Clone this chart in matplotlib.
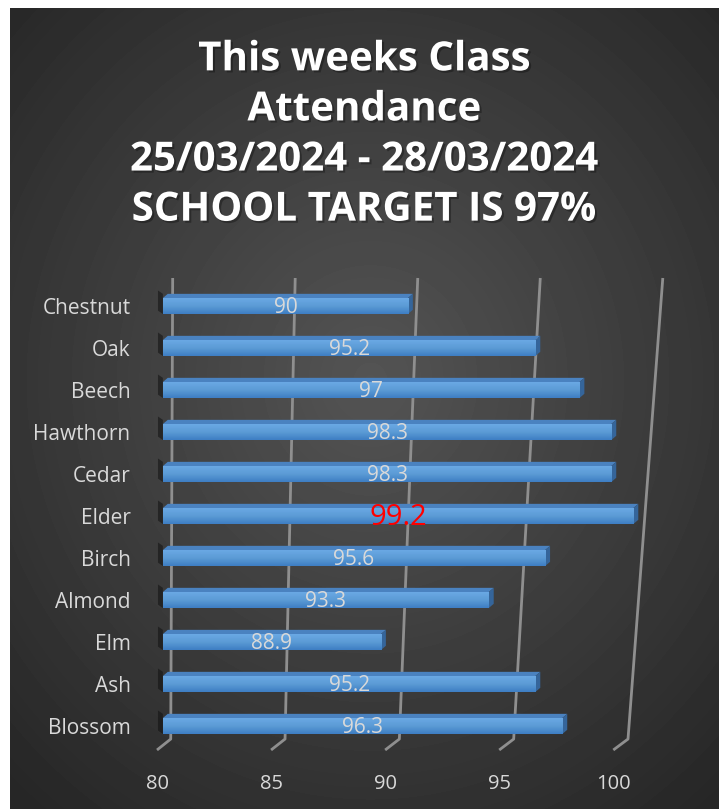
import numpy as np
import matplotlib
matplotlib.use("Agg")
import matplotlib.pyplot as plt
import matplotlib.patheffects as pe
from matplotlib.patches import Polygon
from matplotlib.colors import LinearSegmentedColormap

# bottom to top, as drawn
CLASSES = ["Blossom", "Ash", "Elm", "Almond", "Birch", "Elder",
           "Cedar", "Hawthorn", "Beech", "Oak", "Chestnut"]
ATTENDANCE = [96.3, 95.2, 88.9, 93.3, 95.6, 99.2, 98.3, 98.3, 97, 95.2, 90]
HIGHLIGHT = "Elder"
XTICKS = [80, 85, 90, 95, 100]
TITLE = "This weeks Class\nAttendance\n25/03/2024 - 28/03/2024\nSCHOOL TARGET IS 97%"

FONT = ["Open Sans", "DejaVu Sans"]
W, H = 719, 809

fig = plt.figure(figsize=(W / 100, H / 100), dpi=100)
fig.patch.set_facecolor("white")

# dark radial background
bg = fig.add_axes([0, 0, 1, 1])
bg.set_xlim(0, W)
bg.set_ylim(H, 0)
bg.axis("off")
yy, xx = np.mgrid[8:H, 10:W]
r = np.hypot((xx - 370) / 520, (yy - 380) / 560)
r = np.clip(r, 0, 1)
grey = 0.33 - 0.18 * r
bg.imshow(grey, cmap="gray", vmin=0, vmax=1, extent=[10, W, H, 8],
          aspect="auto", interpolation="bilinear")

# main plot area, x in data units of the bar fronts
ax = fig.add_axes([157 / W, (H - 750) / H, 496 / W, 472 / H])
ax.patch.set_alpha(0)
for s in ax.spines.values():
    s.set_visible(False)

grid_col = "#8f8f8f"
y_back, y_front = -0.31, -0.571
for v in XTICKS:
    top = v + 0.4
    bottom = 80.32 + 0.933 * (v - 80)
    front = 79.76 + 0.931 * (v - 80)
    ax.plot([top, bottom, front], [10.667, y_back, y_front], color=grid_col,
            lw=2, zorder=1, solid_capstyle="butt", clip_on=False)

h = 0.38
dx, dy = 0.2, 0.1
grad = LinearSegmentedColormap.from_list("bar", ["#3f7fc4", "#5b9bd5", "#6aa8e4"])
ypos = np.arange(len(CLASSES))
bars = ax.barh(ypos, [a - 80 for a in ATTENDANCE], left=80, height=h,
               color="#5b9bd5", edgecolor="none", zorder=3)
for b, val in zip(bars, ATTENDANCE):
    x0, y0 = b.get_x(), b.get_y()
    x1, y1 = x0 + b.get_width(), y0 + b.get_height()
    ax.imshow(np.linspace(0, 1, 20).reshape(-1, 1), cmap=grad, origin="lower",
              extent=[x0, x1, y0, y1], aspect="auto", zorder=3.1)
    ax.add_patch(Polygon([(x0, y1), (x1, y1), (x1 + dx, y1 + dy), (x0 + dx, y1 + dy)],
                         closed=True, facecolor="#4a82c0", edgecolor="none", zorder=3))
    ax.add_patch(Polygon([(x1, y0), (x1 + dx, y0 + dy), (x1 + dx, y1 + dy), (x1, y1)],
                         closed=True, facecolor="#35659a", edgecolor="none", zorder=3))
    # dark shadow at the wall
    ax.add_patch(Polygon([(x0 - 0.2, y0 + 0.08), (x0, y0), (x0, y1 + dy), (x0 - 0.2, y1 + dy + 0.08)],
                         closed=True, facecolor="#111111", alpha=0.55, edgecolor="none",
                         zorder=2, clip_on=False))

for name, y, val in zip(CLASSES, ypos, ATTENDANCE):
    label = f"{val:g}"
    if name == HIGHLIGHT:
        ax.text((80 + val) / 2, y - 0.04, label, color="red", fontsize=21,
                ha="center", va="center", family=FONT, zorder=5)
    else:
        ax.text((80 + val) / 2, y - 0.03, label, color="#d9d9d9", fontsize=15,
                ha="center", va="center", family=FONT, zorder=5)

ax.set_xlim(80, 100)
ax.set_ylim(-0.571, 10.667)
ax.set_yticks(ypos, CLASSES)
ax.set_xticks([79.76 + 0.931 * (v - 80) for v in XTICKS], [str(v) for v in XTICKS])
ax.tick_params(axis="both", length=0, colors="#d9d9d9")
ax.tick_params(axis="y", pad=19, labelsize=15)
ax.tick_params(axis="x", pad=17, labelsize=14.5)
for t in ax.get_xticklabels() + ax.get_yticklabels():
    t.set_family(FONT)

fig.text(364 / W, 1 - 135 / H, TITLE, ha="center", va="center", color="white",
         fontsize=29, fontweight="bold", family=FONT, linespacing=1.37,
         path_effects=[pe.withSimplePatchShadow(offset=(1.5, -1.5), shadow_rgbFace="black", alpha=0.3)])

fig.savefig("out.png", dpi=100, facecolor=fig.get_facecolor())
